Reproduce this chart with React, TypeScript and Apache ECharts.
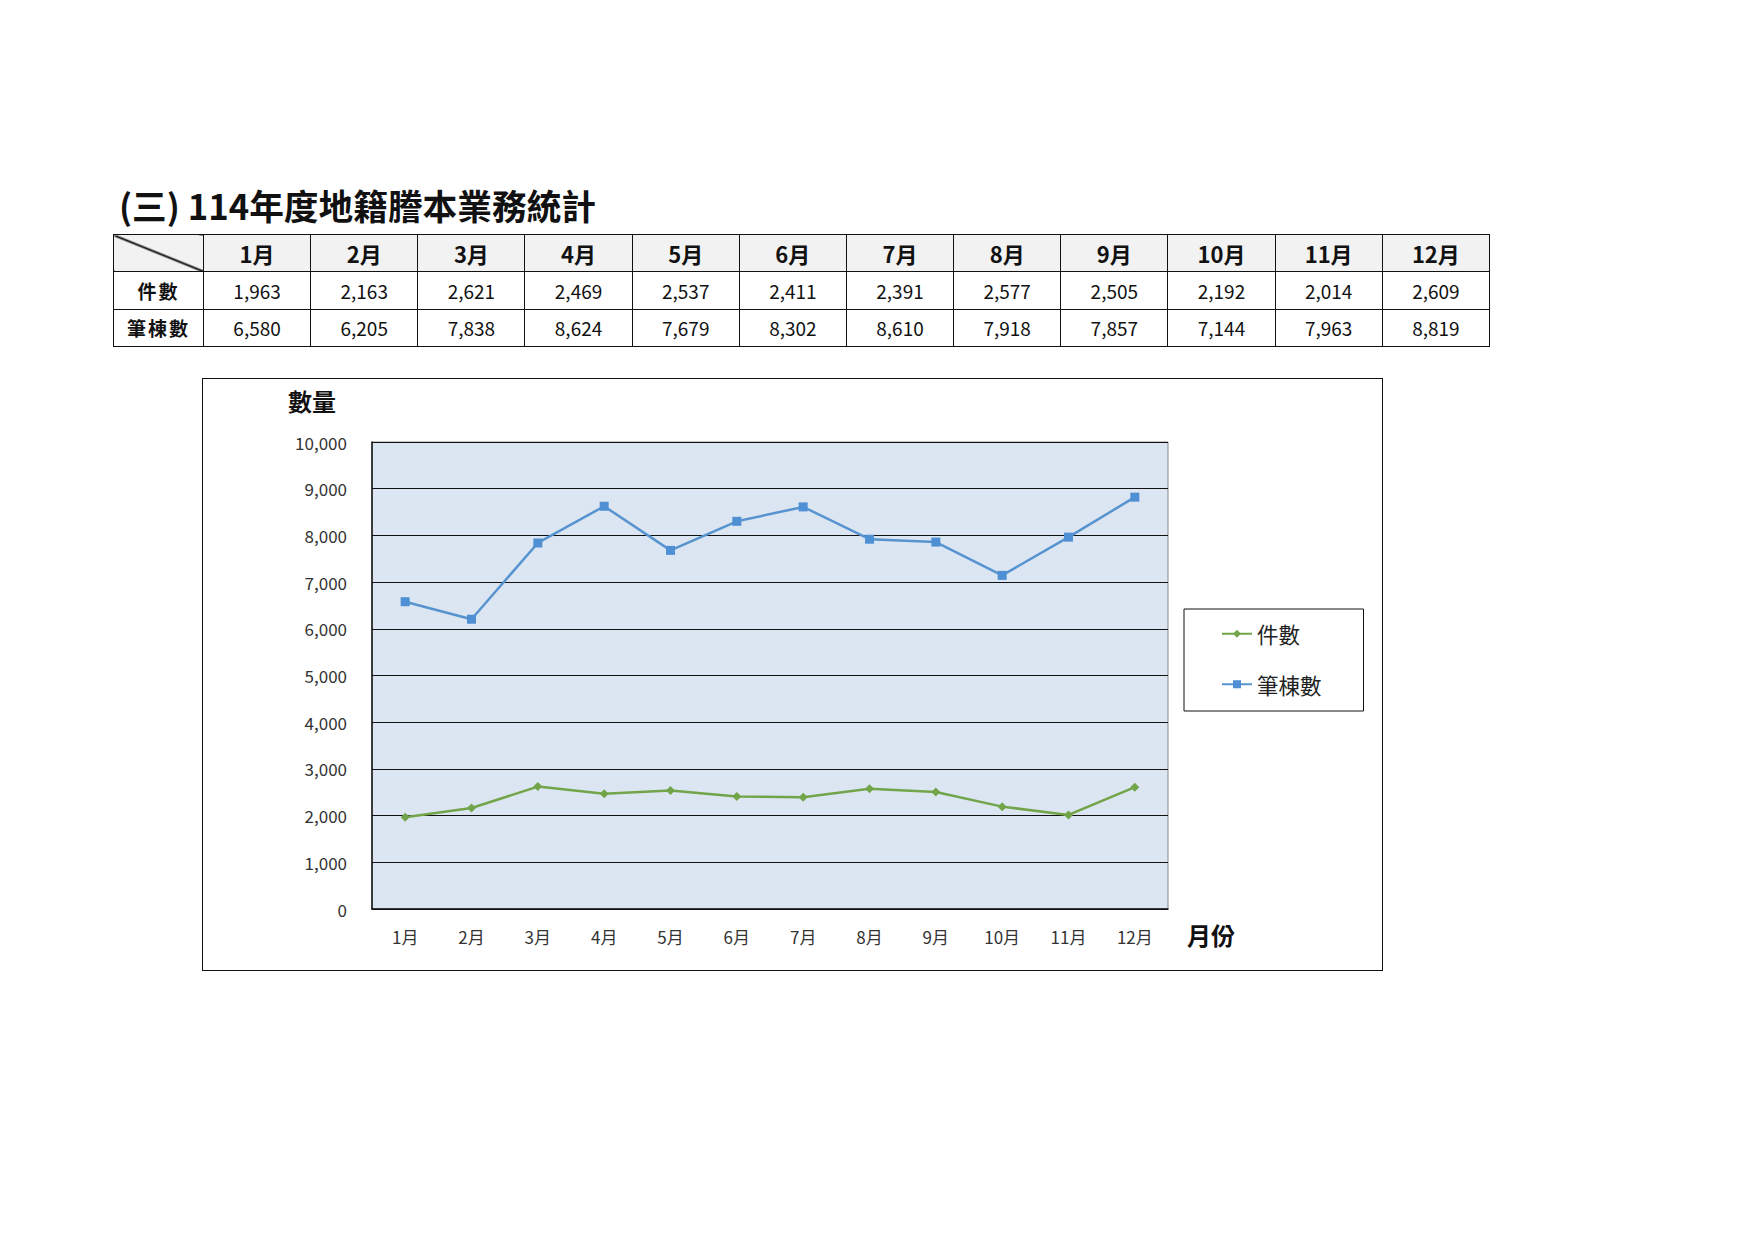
import * as echarts from 'echarts'
import { useEffect, useRef } from 'react'

const months = ['1月', '2月', '3月', '4月', '5月', '6月', '7月', '8月', '9月', '10月', '11月', '12月']
const caseCounts = [1963, 2163, 2621, 2469, 2537, 2411, 2391, 2577, 2505, 2192, 2014, 2609]
const parcelCounts = [6580, 6205, 7838, 8624, 7679, 8302, 8610, 7918, 7857, 7144, 7963, 8819]
const rowNames = ['件數', '筆棟數']

const FONT = '"Noto Sans CJK TC", "Noto Sans", sans-serif'
const GREEN = '#72a54a'
const BLUE = '#5794cf'

const fmt = (v: number) => v.toLocaleString('en-US')

const cellBorder = '1.5px solid #111'

function StatsTable() {
  const rows = [caseCounts, parcelCounts]
  return (
    <table
      style={{
        position: 'absolute',
        left: 113,
        top: 234,
        width: 1377,
        borderCollapse: 'collapse',
        tableLayout: 'fixed',
        fontFamily: FONT,
        color: '#111',
      }}
    >
      <colgroup>
        <col style={{ width: 90 }} />
        {months.map((m) => (
          <col key={m} />
        ))}
      </colgroup>
      <thead>
        <tr style={{ height: 37, background: '#f2f2f2' }}>
          {/* 左上角斜線格 */}
          <th
            style={{
              border: cellBorder,
              background:
                'linear-gradient(to top right, #f2f2f2 calc(50% - 1.5px), #111 calc(50% - 0.5px), #111 calc(50% + 0.5px), #f2f2f2 calc(50% + 1.5px))',
            }}
          />
          {months.map((m) => (
            <th key={m} style={{ border: cellBorder, fontSize: 22, fontWeight: 700, padding: 0 }}>
              {m}
            </th>
          ))}
        </tr>
      </thead>
      <tbody>
        {rows.map((vals, r) => (
          <tr key={rowNames[r]} style={{ height: 37.5 }}>
            <td
              style={{
                border: cellBorder,
                fontSize: 19,
                fontWeight: 700,
                textAlign: 'center',
                letterSpacing: 2,
                padding: 0,
              }}
            >
              {rowNames[r]}
            </td>
            {vals.map((v, i) => (
              <td key={i} style={{ border: cellBorder, fontSize: 19, textAlign: 'center', padding: 0 }}>
                {fmt(v)}
              </td>
            ))}
          </tr>
        ))}
      </tbody>
    </table>
  )
}

function LineChart() {
  const ref = useRef<HTMLDivElement>(null)

  useEffect(() => {
    if (!ref.current) return
    const chart = echarts.init(ref.current, undefined, { renderer: 'svg' })
    chart.setOption({
      animation: false,
      textStyle: { fontFamily: FONT },
      grid: {
        left: 169,
        top: 63,
        right: 214,
        bottom: 61,
        show: true,
        backgroundColor: '#dce6f2',
        borderColor: '#888',
        borderWidth: 1,
      },
      legend: {
        orient: 'vertical',
        left: 981,
        top: 230,
        padding: [14, 42, 16, 37],
        itemGap: 29,
        itemWidth: 30,
        itemHeight: 10,
        borderColor: '#111',
        borderWidth: 1,
        textStyle: { fontSize: 21.5, color: '#222', fontFamily: FONT },
        data: rowNames,
      },
      xAxis: {
        type: 'category',
        data: months,
        boundaryGap: true,
        axisLine: { lineStyle: { color: '#111', width: 1.5 } },
        axisTick: { inside: true, length: 6, lineStyle: { color: '#111' } },
        axisLabel: { fontSize: 17, color: '#333', margin: 19 },
      },
      yAxis: {
        type: 'value',
        min: 0,
        max: 10000,
        interval: 1000,
        axisLine: { show: true, lineStyle: { color: '#111', width: 1.5 } },
        axisTick: { show: false },
        axisLabel: { fontSize: 17, color: '#333', margin: 25, formatter: (v: number) => fmt(v) },
        splitLine: { lineStyle: { color: '#111', width: 1 } },
      },
      graphic: [
        {
          type: 'text',
          left: 85,
          top: 9,
          style: { text: '數量', fontSize: 24, fontWeight: 'bold', fill: '#111', fontFamily: FONT },
        },
        {
          type: 'text',
          left: 984,
          top: 543,
          style: { text: '月份', fontSize: 24, fontWeight: 'bold', fill: '#111', fontFamily: FONT },
        },
      ],
      series: [
        {
          name: rowNames[0],
          type: 'line',
          data: caseCounts,
          symbol: 'diamond',
          symbolSize: 9,
          lineStyle: { color: GREEN, width: 2.5 },
          itemStyle: { color: GREEN },
        },
        {
          name: rowNames[1],
          type: 'line',
          data: parcelCounts,
          symbol: 'rect',
          symbolSize: 9,
          lineStyle: { color: BLUE, width: 2.5 },
          itemStyle: { color: '#4f8fd4' },
        },
      ],
    })
    return () => chart.dispose()
  }, [])

  return (
    <div
      ref={ref}
      style={{
        position: 'absolute',
        left: 202,
        top: 378,
        width: 1181,
        height: 593,
        border: '1.5px solid #111',
        boxSizing: 'border-box',
      }}
    />
  )
}

export default function App() {
  return (
    <div style={{ position: 'absolute', left: 0, top: 0, width: 1754, height: 1240, background: '#fff' }}>
      <div
        style={{
          position: 'absolute',
          left: 119,
          top: 183,
          fontFamily: FONT,
          fontSize: 34.7,
          fontWeight: 700,
          lineHeight: '44px',
          color: '#111',
          whiteSpace: 'nowrap',
        }}
      >
        (三) 114年度地籍謄本業務統計
      </div>
      <StatsTable />
      <LineChart />
    </div>
  )
}
